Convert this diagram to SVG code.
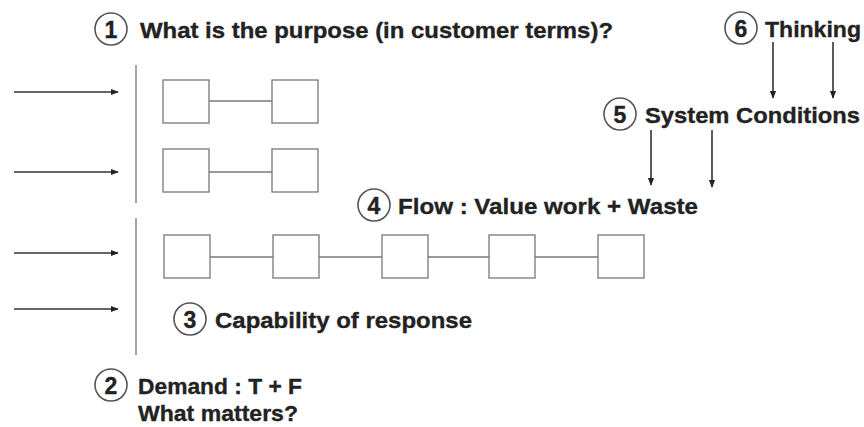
<svg xmlns="http://www.w3.org/2000/svg" width="864" height="427" viewBox="0 0 864 427">
  <defs>
    <marker id="head" viewBox="0 0 10 10" refX="9" refY="5" markerWidth="8" markerHeight="8" markerUnits="userSpaceOnUse" orient="auto">
      <path d="M0,1 L10,5 L0,9 Z" fill="#222"/>
    </marker>
    <style>
      .lbl { font-family: "Liberation Sans", Arial, sans-serif; font-weight: bold; font-size: 22.5px; fill: #222; stroke: #222; stroke-width: 0.35; }
      .num { font-family: "Liberation Sans", Arial, sans-serif; font-weight: bold; font-size: 23px; fill: #222; stroke: #222; stroke-width: 0.35; text-anchor: middle; }
      .ring { fill: #fff; stroke: #555; stroke-width: 1.6; }
      .box { fill: #fff; stroke: #777; stroke-width: 1.3; }
      .link { stroke: #777; stroke-width: 1.3; fill: none; }
      .wall { stroke: #888; stroke-width: 1.5; fill: none; }
      .arrow { stroke: #333; stroke-width: 1.6; fill: none; marker-end: url(#head); }
    </style>
  </defs>
  <rect width="864" height="427" fill="#fff"/>

  <!-- boundary lines -->
  <g id="boundaries">
    <line class="wall" x1="136" y1="65" x2="136" y2="203"/>
    <line class="wall" x1="136" y1="218" x2="136" y2="355"/>
  </g>

  <!-- connectors -->
  <g id="connectors">
    <!-- incoming demand -->
    <line class="arrow" x1="14" y1="92" x2="118" y2="92"/>
    <line class="arrow" x1="14" y1="172" x2="118" y2="172"/>
    <line class="arrow" x1="14" y1="253" x2="118" y2="253"/>
    <line class="arrow" x1="14" y1="309" x2="118" y2="309"/>
    <!-- thinking drives system conditions -->
    <line class="arrow" x1="773" y1="42" x2="773" y2="98"/>
    <line class="arrow" x1="833" y1="42" x2="833" y2="98"/>
    <!-- system conditions drive flow -->
    <line class="arrow" x1="651" y1="130" x2="651" y2="185"/>
    <line class="arrow" x1="712" y1="130" x2="712" y2="187"/>
    <!-- process links -->
    <line class="link" x1="209" y1="101" x2="272" y2="101"/>
    <line class="link" x1="209" y1="172" x2="272" y2="172"/>
    <line class="link" x1="210" y1="257" x2="273" y2="257"/>
    <line class="link" x1="319" y1="257" x2="382" y2="257"/>
    <line class="link" x1="428" y1="257" x2="489" y2="257"/>
    <line class="link" x1="535" y1="257" x2="598" y2="257"/>
  </g>

  <!-- process steps -->
  <g id="step-a1"><rect class="box" x="163" y="80" width="46" height="43"/></g>
  <g id="step-a2"><rect class="box" x="272" y="80" width="46" height="43"/></g>
  <g id="step-b1"><rect class="box" x="163" y="149" width="46" height="43"/></g>
  <g id="step-b2"><rect class="box" x="272" y="149" width="46" height="43"/></g>
  <g id="step-c1"><rect class="box" x="164" y="235" width="46" height="43"/></g>
  <g id="step-c2"><rect class="box" x="273" y="235" width="46" height="43"/></g>
  <g id="step-c3"><rect class="box" x="382" y="235" width="46" height="43"/></g>
  <g id="step-c4"><rect class="box" x="489" y="235" width="46" height="43"/></g>
  <g id="step-c5"><rect class="box" x="598" y="235" width="46" height="43"/></g>

  <!-- numbered labels -->
  <g id="label-1">
    <circle class="ring" cx="111" cy="29" r="16"/>
    <text class="num" x="111" y="37.5">1</text>
    <text class="lbl" x="140" y="38" textLength="473" lengthAdjust="spacingAndGlyphs">What is the purpose (in customer terms)?</text>
  </g>
  <g id="label-6">
    <circle class="ring" cx="741" cy="28" r="16"/>
    <text class="num" x="741" y="36.5">6</text>
    <text class="lbl" x="765" y="37" textLength="96" lengthAdjust="spacingAndGlyphs">Thinking</text>
  </g>
  <g id="label-5">
    <circle class="ring" cx="620" cy="114" r="16"/>
    <text class="num" x="620" y="122.5">5</text>
    <text class="lbl" x="645" y="123" textLength="215" lengthAdjust="spacingAndGlyphs">System Conditions</text>
  </g>
  <g id="label-4">
    <circle class="ring" cx="374" cy="205" r="16"/>
    <text class="num" x="374" y="213.5">4</text>
    <text class="lbl" x="398" y="214" textLength="300" lengthAdjust="spacingAndGlyphs">Flow : Value work + Waste</text>
  </g>
  <g id="label-3">
    <circle class="ring" cx="190" cy="319" r="16"/>
    <text class="num" x="190" y="327.5">3</text>
    <text class="lbl" x="215" y="328" textLength="257" lengthAdjust="spacingAndGlyphs">Capability of response</text>
  </g>
  <g id="label-2">
    <circle class="ring" cx="111" cy="385" r="16"/>
    <text class="num" x="111" y="393.5">2</text>
    <text class="lbl" x="138" y="394" textLength="164" lengthAdjust="spacingAndGlyphs">Demand : T + F</text>
    <text class="lbl" x="138" y="421" textLength="160" lengthAdjust="spacingAndGlyphs">What matters?</text>
  </g>
</svg>
